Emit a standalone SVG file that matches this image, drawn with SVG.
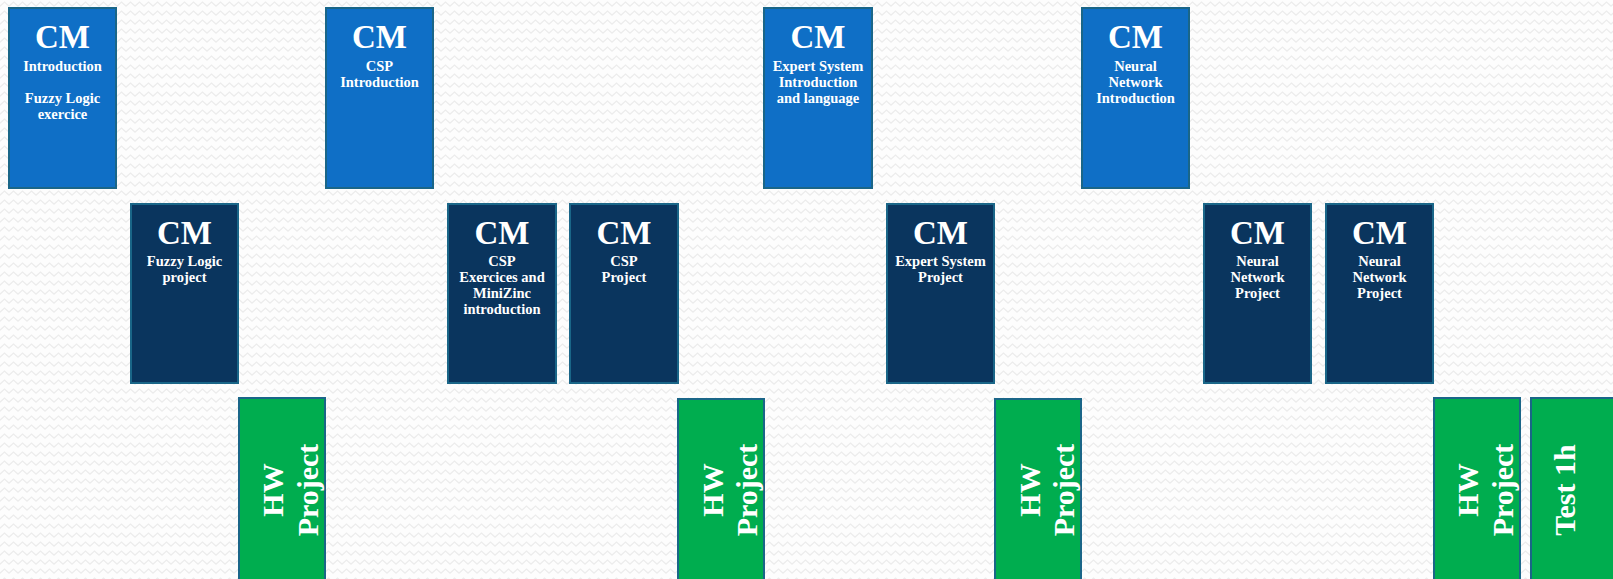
<svg xmlns="http://www.w3.org/2000/svg" width="1613" height="579" viewBox="0 0 1613 579">
<defs>
<pattern id="zz" x="0" y="0" width="9" height="9" patternUnits="userSpaceOnUse">
<path d="M-0.5,6.5 L4.5,2 L9.5,6.5" fill="none" stroke="#ececec" stroke-width="1.3"/>
</pattern>
<style>
.top{fill:#0F6FC6;stroke:#1A6688;stroke-width:2}
.mid{fill:#0A355E;stroke:#1A6688;stroke-width:2}
.hw{fill:#00AD4F;stroke:#1A6688;stroke-width:2}
text{font-family:"Liberation Serif","Times New Roman",serif;font-weight:bold;fill:#ffffff;text-anchor:middle}
.cm{font-size:33px}
.sub{font-size:14.5px}
.rot{font-size:30px}
</style>
</defs>
<rect x="0" y="0" width="1613" height="579" fill="#fdfdfd"/>
<rect x="0" y="0" width="1613" height="579" fill="url(#zz)"/>

<g id="n1"><rect class="top" x="9" y="8" width="107" height="180"/>
<text class="cm" x="62.5" y="48">CM</text>
<text class="sub" x="62.5" y="71">Introduction</text>
<text class="sub" x="62.5" y="103">Fuzzy Logic</text>
<text class="sub" x="62.5" y="119">exercice</text></g>

<g id="n2"><rect class="mid" x="131" y="204" width="107" height="179"/>
<text class="cm" x="184.5" y="244">CM</text>
<text class="sub" x="184.5" y="266">Fuzzy Logic</text>
<text class="sub" x="184.5" y="282">project</text></g>

<g id="n3"><rect class="hw" x="239" y="398" width="86" height="192"/>
<g transform="translate(282,490) rotate(-90)"><text class="rot" x="0" y="1">HW</text><text class="rot" x="0" y="36">Project</text></g></g>

<g id="n4"><rect class="top" x="326" y="8" width="107" height="180"/>
<text class="cm" x="379.5" y="48">CM</text>
<text class="sub" x="379.5" y="71">CSP</text>
<text class="sub" x="379.5" y="87">Introduction</text></g>

<g id="n5"><rect class="mid" x="448" y="204" width="108" height="179"/>
<text class="cm" x="502" y="244">CM</text>
<text class="sub" x="502" y="266">CSP</text>
<text class="sub" x="502" y="282">Exercices and</text>
<text class="sub" x="502" y="298">MiniZinc</text>
<text class="sub" x="502" y="314">introduction</text></g>

<g id="n6"><rect class="mid" x="570" y="204" width="108" height="179"/>
<text class="cm" x="624" y="244">CM</text>
<text class="sub" x="624" y="266">CSP</text>
<text class="sub" x="624" y="282">Project</text></g>

<g id="n7"><rect class="hw" x="678" y="399" width="86" height="191"/>
<g transform="translate(721,490) rotate(-90)"><text class="rot" x="0" y="2">HW</text><text class="rot" x="0" y="36">Project</text></g></g>

<g id="n8"><rect class="top" x="764" y="8" width="108" height="180"/>
<text class="cm" x="818" y="48">CM</text>
<text class="sub" x="818" y="71">Expert System</text>
<text class="sub" x="818" y="87">Introduction</text>
<text class="sub" x="818" y="103">and language</text></g>

<g id="n9"><rect class="mid" x="887" y="204" width="107" height="179"/>
<text class="cm" x="940.5" y="244">CM</text>
<text class="sub" x="940.5" y="266">Expert System</text>
<text class="sub" x="940.5" y="282">Project</text></g>

<g id="n10"><rect class="hw" x="995" y="399" width="86" height="191"/>
<g transform="translate(1038,490) rotate(-90)"><text class="rot" x="0" y="2">HW</text><text class="rot" x="0" y="36">Project</text></g></g>

<g id="n11"><rect class="top" x="1082" y="8" width="107" height="180"/>
<text class="cm" x="1135.5" y="48">CM</text>
<text class="sub" x="1135.5" y="71">Neural</text>
<text class="sub" x="1135.5" y="87">Network</text>
<text class="sub" x="1135.5" y="103">Introduction</text></g>

<g id="n12"><rect class="mid" x="1204" y="204" width="107" height="179"/>
<text class="cm" x="1257.5" y="244">CM</text>
<text class="sub" x="1257.5" y="266">Neural</text>
<text class="sub" x="1257.5" y="282">Network</text>
<text class="sub" x="1257.5" y="298">Project</text></g>

<g id="n13"><rect class="mid" x="1326" y="204" width="107" height="179"/>
<text class="cm" x="1379.5" y="244">CM</text>
<text class="sub" x="1379.5" y="266">Neural</text>
<text class="sub" x="1379.5" y="282">Network</text>
<text class="sub" x="1379.5" y="298">Project</text></g>

<g id="n14"><rect class="hw" x="1434" y="398" width="86" height="192"/>
<g transform="translate(1477,490) rotate(-90)"><text class="rot" x="0" y="1">HW</text><text class="rot" x="0" y="36">Project</text></g></g>

<g id="n15"><rect class="hw" x="1531" y="398" width="86" height="192"/>
<g transform="translate(1574,490) rotate(-90)"><text class="rot" x="0" y="1">Test 1h</text></g></g>

<g id="connectors"/>
</svg>
